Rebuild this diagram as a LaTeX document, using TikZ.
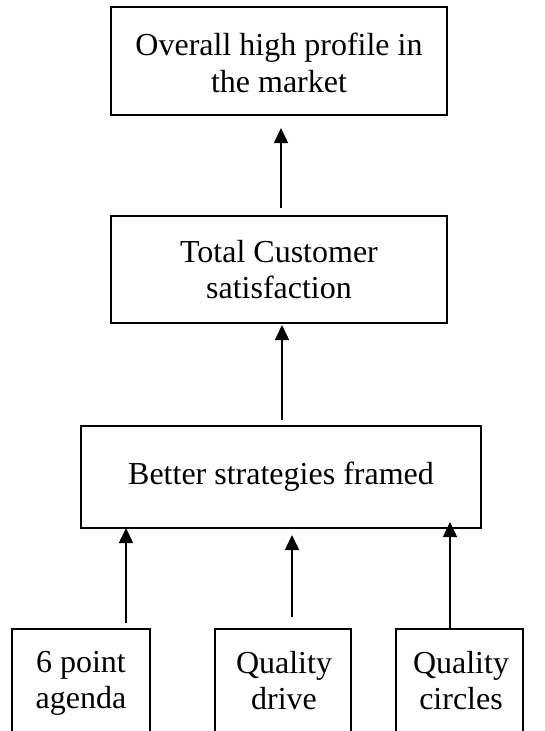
\documentclass[tikz,border=0pt]{standalone}
\usepackage{fontspec}
\setmainfont{Liberation Serif}
\usetikzlibrary{arrows.meta}
\begin{document}
\begin{tikzpicture}[x=1pt,y=-1pt,
  box/.style={draw,line width=2.2pt,rectangle,inner sep=0pt,align=center,font=\fontsize{32}{36.5}\selectfont},
  openbox/.style={draw,line width=2.2pt,rectangle,inner sep=0pt,anchor=north,minimum height=140pt},
  lbl/.style={inner sep=0pt,anchor=north,align=center,font=\fontsize{32}{36.5}\selectfont},
  arr/.style={line width=1.5pt,-{Triangle[length=15pt,width=14pt]}}]
\useasboundingbox (0,0) rectangle (545,731);
\clip (0,0) rectangle (545,731);
% main boxes
\node[box,minimum width=336pt,minimum height=108pt] (top) at (279,61) {};
\node[box,minimum width=336pt,minimum height=107pt] (mid) at (279,269.5) {};
\node[box,minimum width=400pt,minimum height=102pt] (bsf) at (281,477) {Better strategies framed};
\node[lbl] (toptxt) at (279,33) {Overall high profile in\\the market};
\node[lbl] (midtxt) at (279,240) {Total Customer\\satisfaction};
% bottom boxes (cut off at the bottom edge)
\node[openbox,minimum width=138pt] (b1) at (81,628) {};
\node[openbox,minimum width=136pt] (b2) at (283,628) {};
\node[openbox,minimum width=127pt] (b3) at (459.5,628) {};
\node[lbl] (t1) at (81,651) {6 point\\agenda};
\node[lbl] (t2) at (284,651) {Quality\\drive};
\node[lbl] (t3) at (461,651) {Quality\\circles};
% arrow ends
\coordinate (a0s) at (281,208);
\coordinate (a0e) at (281,128);
\coordinate (a1s) at (282,420);
\coordinate (a1e) at (282,325);
\coordinate (c1s) at (126,623);
\coordinate (c1e) at (126,528);
\coordinate (c2s) at (292,617);
\coordinate (c2e) at (292,535);
\coordinate (c3s) at (450,628);
\coordinate (c3e) at (450,522);
\draw[arr] (a0s) -- (a0e);
\draw[arr] (a1s) -- (a1e);
\draw[arr] (c1s) -- (c1e);
\draw[arr] (c2s) -- (c2e);
\draw[arr] (c3s) -- (c3e);
\end{tikzpicture}
\end{document}
